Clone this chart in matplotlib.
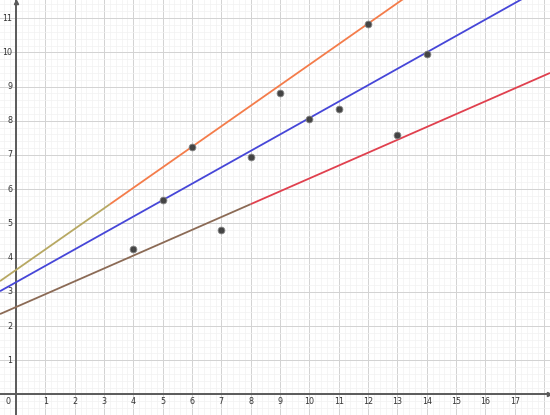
import matplotlib
matplotlib.use("Agg")
import matplotlib.pyplot as plt
import numpy as np
from matplotlib.ticker import MultipleLocator

# datos (Anscombe I)
xs = [4, 5, 6, 7, 8, 9, 10, 11, 12, 13, 14]
ys = [4.26, 5.68, 7.24, 4.82, 6.95, 8.81, 8.04, 8.33, 10.84, 7.58, 9.96]

# rectas: (intercepto, pendiente, color, color tramo inicial, x de cambio)
rectas = [
    (3.64, 0.60, "#f47c4a", "#b7a862", 3.2),
    (3.28, 0.48, "#4646d8", "#4646d8", 0.0),
    (2.555, 0.376, "#e0404e", "#8b6a55", 8.0),
]

XMIN, XMAX = -0.545, 18.2
YMIN, YMAX = -0.6, 11.53

fig = plt.figure(figsize=(5.5, 4.15), dpi=100)
ax = fig.add_axes([0, 0, 1, 1])
ax.set_xlim(XMIN, XMAX)
ax.set_ylim(YMIN, YMAX)
for s in ax.spines.values():
    s.set_visible(False)

ax.xaxis.set_major_locator(MultipleLocator(1))
ax.yaxis.set_major_locator(MultipleLocator(1))
ax.xaxis.set_minor_locator(MultipleLocator(0.2))
ax.yaxis.set_minor_locator(MultipleLocator(0.2))
ax.grid(True, which="major", color="#d2d2d2", lw=0.7, zorder=0)
ax.grid(True, which="minor", color="#f1f1f1", lw=0.5, zorder=0)
ax.tick_params(which="both", length=0, labelbottom=False, labelleft=False)

# ejes
ax.axhline(0, color="#5a5a5a", lw=1.4, zorder=2)
ax.axvline(0, color="#5a5a5a", lw=1.4, zorder=2)
ax.plot([XMAX - 0.05], [0], marker=">", color="#5a5a5a", ms=3, clip_on=False, zorder=3)
ax.plot([0], [YMAX - 0.05], marker="^", color="#5a5a5a", ms=3, clip_on=False, zorder=3)

for i in range(1, 18):
    ax.text(i, -0.2, str(i), ha="center", va="center", fontsize=5.8, color="#333333")
for j in range(1, 12):
    ax.text(-0.13, j, str(j), ha="right", va="center", fontsize=5.8, color="#333333")
ax.text(-0.2, -0.2, "0", ha="right", va="center", fontsize=5.8, color="#333333")

for b, m, c, c0, xc in rectas:
    if xc > XMIN:
        xa = np.array([XMIN, xc])
        ax.plot(xa, b + m * xa, color=c0, lw=1.3, zorder=4, solid_capstyle="butt")
    xb = np.array([max(xc, XMIN), XMAX])
    ax.plot(xb, b + m * xb, color=c, lw=1.3, zorder=4, solid_capstyle="butt")

ax.scatter(xs, ys, s=24, color="#444444", edgecolor="#888888", linewidth=0.6, zorder=5)

fig.savefig("out.png", dpi=100)
